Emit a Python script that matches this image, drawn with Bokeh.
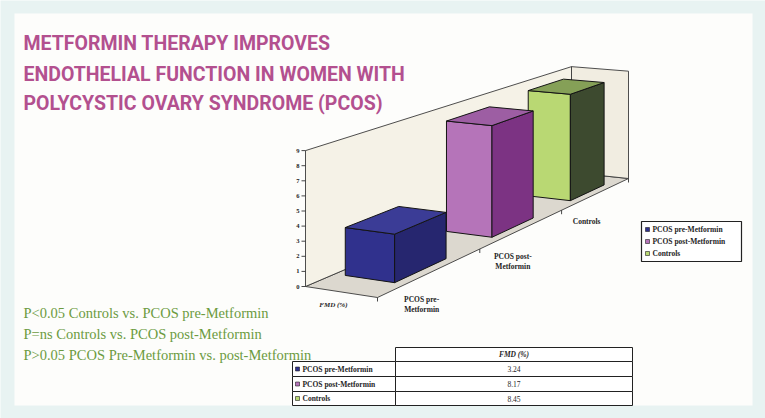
import numpy as np
from bokeh.plotting import figure
from bokeh.models import Range1d
from bokeh.core.properties import value
from bokeh.embed import file_html
from bokeh.resources import INLINE

# ---------------- data ----------------
categories = ["PCOS pre-Metformin", "PCOS post-Metformin", "Controls"]
category_lines = [["PCOS pre-", "Metformin"], ["PCOS post-", "Metformin"], ["Controls"]]
fmd = [3.24, 8.17, 8.45]
fmd_text = ["3.24", "8.17", "8.45"]
series_name = "FMD (%)"
y_ticks = [0, 1, 2, 3, 4, 5, 6, 7, 8, 9]
y_max = 9
title_lines = ["METFORMIN THERAPY IMPROVES",
               "ENDOTHELIAL FUNCTION IN WOMEN WITH",
               "POLYCYSTIC OVARY SYNDROME (PCOS)"]
stat_lines = ["P<0.05 Controls vs. PCOS pre-Metformin",
              "P=ns Controls vs. PCOS post-Metformin",
              "P>0.05 PCOS Pre-Metformin vs. post-Metformin"]

# ---------------- styles ----------------
left_cols = ["#30318d", "#b574b9", "#b9d873"]
front_cols = ["#26266f", "#7c3383", "#3d4a2f"]
top_cols = ["#3b3c96", "#9d5ea3", "#85a057"]
TITLE_COL = "#b3508f"
GREEN = "#6c9b3f"
INK = "#1e1e1e"
SERIF = value("Liberation Serif")

W, Hh = 765, 418
p = figure(width=W, height=Hh, x_range=Range1d(0, W), y_range=Range1d(Hh, 0),
           output_backend="svg", toolbar_location=None, min_border=0)
p.axis.visible = False
p.grid.visible = False
p.outline_line_color = None
p.background_fill_color = "#e8f3f2"
p.border_fill_color = "#e8f3f2"

# inner white panel
p.quad(left=[14], right=[752], top=[13], bottom=[405], fill_color="#fdfdfb", line_color=None)

# ---------------- 3D projection (floor homography) ----------------
A = (305.0, 286.0); Hc = (571.0, 172.0); G = (628.0, 178.0); F = (377.0, 297.0)
S0 = 15.1
NC = len(categories)
sx = A[0] - Hc[0] + G[0] - F[0]
sy = A[1] - Hc[1] + G[1] - F[1]
dx1 = Hc[0] - G[0]; dx2 = F[0] - G[0]
dy1 = Hc[1] - G[1]; dy2 = F[1] - G[1]
det = dx1 * dy2 - dx2 * dy1
gg = (sx * dy2 - dx2 * sy) / det
hh = (dx1 * sy - sx * dy1) / det
ca = Hc[0] - A[0] + gg * Hc[0]; cb = F[0] - A[0] + hh * F[0]
cd = Hc[1] - A[1] + gg * Hc[1]; ce = F[1] - A[1] + hh * F[1]


def proj(c, d, v):
    u = c / NC
    w = gg * u + hh * d + 1.0
    x = (ca * u + cb * d + A[0]) / w
    y = (cd * u + ce * d + A[1]) / w - v * S0 / w ** 0.8
    return x, y


def poly(pts):
    xs, ys = zip(*[proj(*q) for q in pts])
    return list(xs), list(ys)


# walls and floor
wall_xs, wall_ys, wall_fc = [], [], []
for pts, col in [
    ([(0, 0, 0), (NC, 0, 0), (NC, 1, 0), (0, 1, 0)], "#dcd8cf"),
    ([(0, 0, 0), (NC, 0, 0), (NC, 0, y_max), (0, 0, y_max)], "#f5f2e7"),
    ([(NC, 0, 0), (NC, 1, 0), (NC, 1, y_max), (NC, 0, y_max)], "#f1ede1"),
]:
    xs, ys = poly(pts)
    wall_xs.append(xs); wall_ys.append(ys); wall_fc.append(col)
p.patches(wall_xs, wall_ys, fill_color=wall_fc, line_color="#3a3a3a", line_width=0.9)

# vertical axis ticks and labels
tx0, ty0, tx1, ty1, lx, ly = [], [], [], [], [], []
for t in y_ticks:
    x, y = proj(0, 0, t)
    tx0.append(x - 4); ty0.append(y); tx1.append(x); ty1.append(y)
    lx.append(x - 6); ly.append(y)
p.segment(tx0, ty0, tx1, ty1, line_color="#333333", line_width=0.9)
p.text(lx, ly, text=[str(t) for t in y_ticks], text_font=SERIF, text_font_style="bold",
       text_font_size="6.5px", text_color=INK, text_align="right", text_baseline="middle")

# front-edge ticks
fx0, fy0, fx1, fy1 = [], [], [], []
for c in range(NC + 1):
    x, y = proj(c, 1, 0)
    fx0.append(x); fy0.append(y); fx1.append(x); fy1.append(y + 4)
p.segment(fx0, fy0, fx1, fy1, line_color="#333333", line_width=0.9)

# bars (back to front)
D0, D1, HALF = 0.15, 0.85, 0.25
bx, by, bc = [], [], []
for i in reversed(range(NC)):
    v = fmd[i]
    c0, c1 = i + 0.5 - HALF, i + 0.5 + HALF
    faces = [
        ([(c0, D0, 0), (c0, D1, 0), (c0, D1, v), (c0, D0, v)], left_cols[i]),
        ([(c0, D1, 0), (c1, D1, 0), (c1, D1, v), (c0, D1, v)], front_cols[i]),
        ([(c0, D0, v), (c1, D0, v), (c1, D1, v), (c0, D1, v)], top_cols[i]),
    ]
    for pts, col in faces:
        xs, ys = poly(pts)
        bx.append(xs); by.append(ys); bc.append(col)
p.patches(bx, by, fill_color=bc, line_color="#141414", line_width=1)

# category labels
clx, cly, clt = [], [], []
for i, lines in enumerate(category_lines):
    x, y = proj(i + 0.5, 1, 0)
    for k, t in enumerate(lines):
        clx.append(x - 10); cly.append(y + 28 + k * 10); clt.append(t)
p.text(clx, cly, text=clt, text_font=SERIF, text_font_style="bold", text_font_size="7.5px",
       text_color=INK, text_align="center", text_baseline="middle")

# series label
sxp, syp = proj(0, 1, 0)
p.text([sxp - 30], [syp + 7], text=[series_name], text_font=SERIF, text_font_style="bold italic",
       text_font_size="7px", text_color=INK, text_align="right", text_baseline="middle")

# legend box
p.quad(left=[641], right=[741], top=[221], bottom=[261], fill_color="white",
       line_color="#222222", line_width=1.2)
leg_y = [229, 241, 253]
p.quad(left=[645] * NC, right=[649] * NC, top=[y - 2 for y in leg_y], bottom=[y + 2 for y in leg_y],
       fill_color=left_cols, line_color="#222222", line_width=0.6)
p.text([652] * NC, leg_y, text=categories, text_font=SERIF, text_font_style="bold",
       text_font_size="7.5px", text_color=INK, text_baseline="middle")

# data table
col_x = [292, 395, 632]
row_y = [347, 361, 376, 391, 405]
p.quad(left=[col_x[1]], right=[col_x[2]], top=[row_y[0]], bottom=[row_y[1]],
       fill_color="white", line_color="#222222", line_width=1)
p.quad(left=[col_x[0]] * NC, right=[col_x[1]] * NC, top=row_y[1:4], bottom=row_y[2:5],
       fill_color="white", line_color="#222222", line_width=1)
p.quad(left=[col_x[1]] * NC, right=[col_x[2]] * NC, top=row_y[1:4], bottom=row_y[2:5],
       fill_color="white", line_color="#222222", line_width=1)
mid = (col_x[1] + col_x[2]) / 2
p.text([mid], [(row_y[0] + row_y[1]) / 2], text=[series_name], text_font=SERIF,
       text_font_style="bold italic", text_font_size="7.5px", text_color=INK,
       text_align="center", text_baseline="middle")
rc = [(row_y[k] + row_y[k + 1]) / 2 for k in range(1, 4)]
p.quad(left=[295] * NC, right=[299] * NC, top=[y - 2 for y in rc], bottom=[y + 2 for y in rc],
       fill_color=left_cols, line_color="#222222", line_width=0.6)
p.text([302] * NC, rc, text=categories, text_font=SERIF, text_font_style="bold",
       text_font_size="7.5px", text_color=INK, text_baseline="middle")
p.text([mid] * NC, rc, text=fmd_text, text_font=SERIF, text_font_size="7.5px",
       text_color=INK, text_align="center", text_baseline="middle")

# title
p.text([23] * 3, [43, 74, 103], text=title_lines,
       text_font=value("Roboto"),
       text_font_style="bold", text_font_size="19.5px", text_color=TITLE_COL,
       text_baseline="alphabetic")

# statistics
p.text([23] * 3, [312, 333, 354], text=stat_lines, text_font=SERIF,
       text_font_size="14.5px", text_color=GREEN, text_baseline="alphabetic")

open("out.html", "w").write(file_html(p, INLINE))
